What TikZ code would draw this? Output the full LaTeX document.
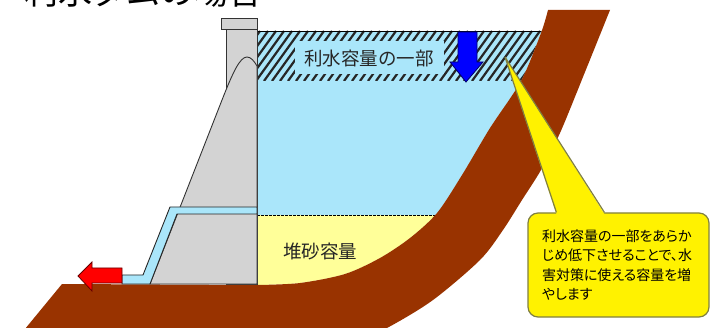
\documentclass[tikz,border=0pt]{standalone}
\usepackage{fontspec}
\newfontfamily\jp{Noto Sans CJK JP}
\newfontfamily\jpp[RawFeature=+palt]{Noto Sans CJK JP}

\definecolor{waterblue}{RGB}{170,230,250}
\definecolor{sandyellow}{RGB}{255,255,153}
\definecolor{earth}{RGB}{153,51,0}
\definecolor{concrete}{RGB}{211,211,211}
\definecolor{noteline}{RGB}{128,128,64}

\tikzset{
  hatch/.style={line width=2.2pt, black!85},
  dam/.style={fill=concrete, draw=black!80, line width=0.9pt},
  pipe/.style={fill=waterblue, draw=black!85, line width=0.9pt},
  outflow/.style={fill=red, draw=black!60!red, line width=0.8pt},
  drawdown/.style={fill=blue, draw=blue!40!black, line width=0.8pt},
  capacity/.style={font=\jp\fontsize{18.5}{20}\selectfont, text=black!85, inner sep=0pt},
  note/.style={fill=yellow, draw=noteline, line width=1.2pt, rounded corners=10pt,
    font=\jpp\fontsize{14}{19.3}\selectfont, text width=153pt, align=left,
    inner xsep=14pt, minimum height=104pt}
}

\begin{document}
\begin{tikzpicture}[x=1pt,y=-1pt]
\useasboundingbox (0,0) rectangle (711,328);

% reservoir inside the bank
\begin{scope}
\clip (257,20) -- plot[smooth] coordinates {(257,285) (300,283) (345,274) (380,258) (410,238) (437,213) (462,175) (490,128) (521,81) (541,33) (548,10)} -- cycle;
\fill[waterblue] (257,31) rectangle (560,215);
\fill[sandyellow] (257,215) rectangle (560,300);
\begin{scope}
\clip (257,31) rectangle (560,81);
\foreach \x in {200,208,...,560}
  \draw[hatch] (\x,81) -- ++(36,-50);
\end{scope}
\draw[thin] (257,31) -- (560,31);
\draw[thin, dash pattern=on 3pt off 1pt] (257,215) -- (560,215);
\end{scope}

% ground
\fill[earth] (11,346) -- (62,284) -- plot[smooth] coordinates {(258,285) (300,283) (345,274) (380,258) (410,238) (437,213) (462,175) (490,128) (521,81) (541,33) (548,10)} -- plot[smooth] coordinates {(610,10) (585,72) (560,133) (541,170) (522,200) (503,230) (480,260) (433,300) (387,328) (340,350)} -- cycle;

% dam
\filldraw[dam] (226,29) rectangle (257,284);
\filldraw[dam] (150,284) -- (222,100) .. controls (233,72) and (240,57) .. (247,57) .. controls (251,57) and (254,61) .. (257,66) -- (257,284) -- cycle;
\filldraw[dam] (221,18) rectangle (257,29);
\filldraw[pipe] (257,207) -- (170,207) -- (143,275) -- (122,275) -- (122,284) -- (150,284) -- (177,214) -- (257,214) -- cycle;

% arrows
\filldraw[outflow] (122,268) -- (92,268) -- (92,262) -- (78,276) -- (92,291) -- (92,283) -- (122,283) -- cycle;
\filldraw[drawdown] (458,32) -- (477,32) -- (477,62) -- (483,62) -- (466,82) -- (450,62) -- (458,62) -- cycle;

% labels
\node[capacity, fill=waterblue, minimum width=149pt, minimum height=33pt] (part) at (369,58) {利水容量の一部};
\node[capacity] (silt) at (320,251) {堆砂容量};
\node[anchor=base, font=\jp\fontsize{34}{34}\selectfont, inner sep=0pt] (title) at (143.5,5) {利水ダムの場合};

% callout
\node[note] (note) at (618.5,265) {利水容量の一部をあらか\\じめ低下させることで、水\\害対策に使える容量を増\\やします};
\coordinate (tip) at (505,57);
\fill[yellow] (tip) -- ([xshift=29pt,yshift=-1.5pt]note.north west) -- ([xshift=77pt,yshift=-1.5pt]note.north west) -- cycle;
\draw[noteline, line width=1.2pt, line join=bevel] ([xshift=29pt]note.north west) -- (tip) -- ([xshift=77pt]note.north west);

\end{tikzpicture}
\end{document}
